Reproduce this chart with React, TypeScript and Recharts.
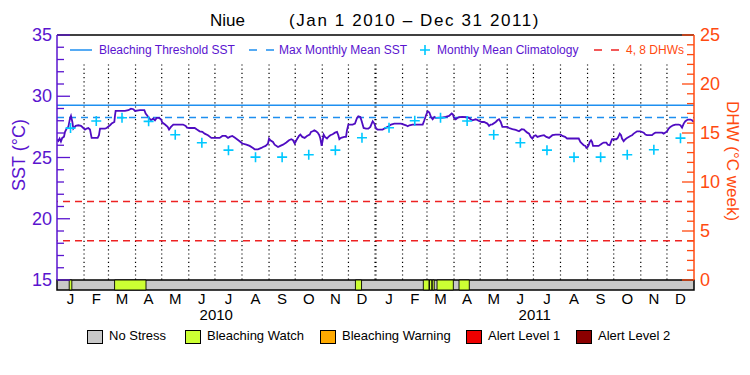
import React from 'react';
import { ComposedChart, Line, Scatter, XAxis, YAxis, ReferenceLine, ReferenceArea } from 'recharts';

// ---------------- data ----------------
const sstDays = [
  0, 1.5, 3, 4.5, 6, 8, 9.2, 11.1, 13, 14.9, 16, 17.6, 18.7, 21.4, 24.4, 27.5, 30.2, 32.1, 34, 35.9, 37.8, 39.7, 46.6, 48.1, 49.3, 55, 56.9, 60.7, 62.6, 65.7, 66.5, 67.2, 77.9, 81.7, 84.8, 87.5, 89.4, 95.1, 100.1, 101.6, 104.7, 107.7, 110.4, 112.3, 114.2, 116.9, 119.2, 120.7, 123.8, 126.8, 128.4, 130.6, 133.3, 141,
  144.4, 147.5, 149, 152, 157.8, 160.4, 163.5, 166.6, 169.2, 173, 176.9, 186.4, 189.5, 193.3, 196, 197.9, 200.9, 203.6, 206.3, 209.3, 212.4, 217, 220.8, 224.6, 226.5, 230.3, 234.2, 236.1, 239.1, 241.8, 243, 244.5, 247.5, 249.4, 253.3, 255.9, 259, 262.8, 265.9, 268.5, 270.5, 272.4, 274.3, 277.3, 278.9, 281.1, 283.8, 286.5, 289.6,
  291.1, 293, 294.9, 296.8, 298.7, 300.6, 301.8, 303.3, 304.5, 305.6, 307.1, 309.4, 311, 313.2, 315.9, 318.6, 320.9, 322.4, 323.6, 325.5, 329.3, 331.2, 332.3, 333.9, 338.8, 341.5, 343.8, 345.3, 347.6, 349.2, 351.4, 354.1, 356.8, 359.1, 360.6, 361.8, 363.7, 365.6, 367.5, 373.2, 375.1, 378.9, 382.8, 386.6, 394.2, 400, 401.9, 403.8, 407.6, 419.1, 421, 422.9, 424.8, 426.7, 428.6, 430.5, 432.4, 434.3,
  437.8, 441.6, 445.4, 449.3, 452.3, 453.8, 455, 456.9, 458.8, 460.7, 464.5, 470.3, 472.2, 474.1, 476, 479.8, 483.7, 486.7, 489.4, 493.2, 495.1, 497, 498.9, 502.8, 504.7, 506.6, 508.5, 510.4, 516.1, 518, 521.9, 525.7, 529.5, 532.5, 535.2, 537.1, 539, 541, 542.9, 544.8, 546.7, 548.6, 550.5, 554.3, 558.1, 560.8, 563.9, 567.7, 571.5, 577.2, 579.1, 582.2,
  584.5, 597.9, 599.8, 601.7, 603.6, 605.5, 606.7, 608.2, 609.3, 610.5, 612, 613.2, 614.3, 620.8, 622.7, 624.6, 626.5, 629.6, 631.1, 633.4, 634.9, 636.1, 641, 642.6, 643.7, 644.9, 646.4, 647.5, 649.4, 651.4, 653.3, 655.2, 657.1, 659, 660.9, 664.7, 668.5, 672.4, 674.3, 676.2, 681.9, 683.8, 685.7, 689.6, 693.4, 695.3, 697.2, 699.1, 701, 702.9, 706, 708.7, 712.5, 714.4, 716.3, 718.2, 720.1, 722.8, 725.8, 727.8, 729.7,
];
const sstValues = [
  26.45, 26.35, 26.55, 26.3, 26.6, 26.7, 27.09, 27.36, 27.5, 28.18, 28.39, 27.9, 27.36, 27.58, 27.63, 27.58, 27.41, 27.28, 27.36, 27.41, 27.28, 26.6, 26.6, 26.82, 27.36, 27.36, 27.41, 27.63, 27.77, 27.9, 28.45, 28.8, 28.8, 28.86, 28.99, 28.94, 28.8, 28.86, 28.86, 28.59, 28.31, 28.04, 28.18, 28.04, 28.23, 28.23, 28.12, 27.85, 27.69, 27.5, 27.28, 27.5, 27.69, 27.69,
  27.69, 27.58, 27.44, 27.41, 27.41, 27.28, 27.14, 27.09, 26.95, 26.82, 26.6, 26.6, 26.76, 26.76, 26.6, 26.68, 26.76, 26.63, 26.49, 26.33, 26.14, 26.05, 25.95, 25.78, 25.67, 25.67, 25.78, 25.86, 25.95, 26.14, 26.55, 26.41, 26.27, 26.05, 25.86, 25.95, 26.05, 26.22, 26.41, 26.49, 26.41, 26.14, 26.41, 26.76, 26.87, 26.68, 26.6, 26.76, 26.87,
  27.09, 27.14, 27.22, 27.14, 27.03, 26.82, 26.55, 25.95, 26.41, 26.87, 26.68, 26.55, 26.68, 26.82, 26.9, 27.03, 27.09, 26.82, 26.49, 26.6, 26.68, 26.68, 27.22, 27.69, 27.69, 27.77, 28.23, 28.37, 28.31, 27.96, 27.41, 27.36, 27.36, 27.5, 27.77, 27.96, 27.77, 27.36, 27.28, 27.28, 27.36, 27.5, 27.69, 27.77, 27.77, 27.63, 27.55, 27.63, 27.69, 27.69, 28.04, 28.45, 28.78, 28.67, 28.31, 28.12, 28.31, 28.23,
  28.26, 28.26, 28.31, 28.39, 28.59, 28.5, 28.23, 28.12, 28.23, 28.29, 28.31, 28.29, 28.23, 28.12, 28.04, 28.12, 27.99, 27.9, 27.9, 27.77, 27.58, 27.69, 27.71, 27.9, 28.04, 28.12, 27.9, 27.5, 27.5, 27.41, 27.31, 27.25, 27.14, 27.31, 27.28, 27.14, 27.03, 26.95, 26.68, 26.55, 26.76, 26.82, 26.68, 26.76, 26.82, 26.68, 26.6, 26.82, 26.87, 26.87, 26.76, 26.68,
  26.55, 26.55, 26.27, 26.14, 26.0, 25.95, 25.78, 25.86, 26.0, 26.27, 26.41, 26.27, 25.95, 25.95, 26.05, 26.14, 26.22, 26.22, 26.05, 26.0, 26.27, 26.49, 26.49, 26.6, 26.76, 26.95, 26.82, 26.55, 26.33, 26.49, 26.6, 26.68, 26.76, 26.82, 26.95, 27.14, 27.14, 27.03, 26.87, 26.82, 26.82, 26.95, 27.03, 27.03, 27.03, 26.95, 27.03, 27.14, 27.36, 27.5, 27.63, 27.69, 27.69, 27.63, 27.44, 27.77, 27.96, 28.1, 28.1, 28.04, 27.9,
];

// month start days (day 0 = Jan 1 2010) and mid-month label positions
const monthStartDays = [0, 31, 59, 90, 120, 151, 181, 212, 243, 273, 304, 334, 365, 396, 424, 455, 485, 516, 546, 577, 608, 638, 669, 699, 730];
const monthLetters = ['J', 'F', 'M', 'A', 'M', 'J', 'J', 'A', 'S', 'O', 'N', 'D', 'J', 'F', 'M', 'A', 'M', 'J', 'J', 'A', 'S', 'O', 'N', 'D'];
const yearLabels = ['2010', '2011'];
const yearMidDays = [182.5, 547.5];

// monthly mean climatology (one per month, plotted mid-month)
const climValues = [27.4, 27.98, 28.25, 27.95, 26.86, 26.2, 25.6, 25.03, 25.03, 25.22, 25.6, 26.61, 27.43, 28.0, 28.25, 27.98, 26.86, 26.2, 25.6, 25.03, 25.03, 25.22, 25.63, 26.58];

const bleachingThreshold = 29.26;
const maxMonthlyMean = 28.26;
const dhwLevels = [4, 8];

// bleaching watch periods (day ranges) in the stress strip
const watchStart = [14, 66, 342, 419.8, 426.9, 430.1, 435.5, 460.7];
const watchEnd = [17, 102, 349, 426.3, 429.5, 432.3, 454.2, 472.5];

const leftTicks = [15, 16, 17, 18, 19, 20, 21, 22, 23, 24, 25, 26, 27, 28, 29, 30, 31, 32, 33, 34, 35];
const rightTicks = [0, 1, 2, 3, 4, 5, 6, 7, 8, 9, 10, 11, 12, 13, 14, 15, 16, 17, 18, 19, 20, 21, 22, 23, 24, 25];

const legendItems = ['No Stress', 'Bleaching Watch', 'Bleaching Warning', 'Alert Level 1', 'Alert Level 2'];
const legendColors = ['#c8c8c8', '#ccff33', '#ffaa00', '#ee0000', '#8b0000'];

// ---------------- derived tables ----------------
const monthMidDays = monthLetters.map((_, i) => (monthStartDays[i] + monthStartDays[i + 1]) / 2);
const sstData = sstDays.map((d, i) => ({ day: d, sst: sstValues[i] }));
const climData = climValues.map((v, i) => ({ day: monthMidDays[i], clim: v }));

// ---------------- styles ----------------
const FONT = "'Liberation Sans', Arial, sans-serif";
const PURPLE = '#5a14cf';
const LINE_PURPLE = '#4f0cc2';
const BLUE = '#1e8ff0';
const CYAN = '#00c8ff';
const RED = '#ee2222';
const ORANGE = '#ff4a10';
const STRIP_BOTTOM = 14.184;

const LeftTick = (props: any) => {
  const { x, y, payload } = props;
  const v = payload.value;
  const major = v % 5 === 0;
  return (
    <g>
      <line x1={x} x2={x + (major ? 13 : 7)} y1={y} y2={y} stroke={PURPLE} strokeWidth={1.3} />
      {major && (
        <text x={x - 5} y={y + 6} textAnchor="end" fill={PURPLE} fontSize={18} fontFamily={FONT}>
          {v}
        </text>
      )}
    </g>
  );
};

const RightTick = (props: any) => {
  const { x, y, payload } = props;
  const v = payload.value;
  const major = v % 5 === 0;
  return (
    <g>
      <line x1={x} x2={x - (major ? 12 : 7)} y1={y} y2={y} stroke={ORANGE} strokeWidth={1.3} />
      {major && (
        <text x={x + 6} y={y + 6} textAnchor="start" fill={ORANGE} fontSize={18} fontFamily={FONT}>
          {v}
        </text>
      )}
    </g>
  );
};

const MonthTick = (props: any) => {
  const { x, y, payload } = props;
  const idx = monthMidDays.indexOf(payload.value);
  return (
    <text x={x} y={y + 24} textAnchor="middle" fill="#000" fontSize={15} fontFamily={FONT}>
      {monthLetters[idx]}
    </text>
  );
};

const YearTick = (props: any) => {
  const { x, y, payload } = props;
  const idx = yearMidDays.indexOf(payload.value);
  return (
    <text x={x} y={y + 10} textAnchor="middle" fill="#000" fontSize={15} fontFamily={FONT}>
      {yearLabels[idx]}
    </text>
  );
};

const PlusShape = (props: any) => {
  const { cx, cy } = props;
  return <path d={`M${cx - 5},${cy}H${cx + 5}M${cx},${cy - 5}V${cy + 5}`} stroke={CYAN} strokeWidth={1.6} fill="none" />;
};

export default function App() {
  return (
    <div style={{ position: 'absolute', left: 0, top: 0, width: 750, height: 375, background: '#fff', fontFamily: FONT }}>
      <ComposedChart
        width={750}
        height={375}
        data={sstData}
        margin={{ top: 35, right: 0, bottom: 0, left: 0 }}
      >
        <XAxis
          dataKey="day"
          type="number"
          domain={[0, 730]}
          allowDataOverflow
          ticks={monthMidDays}
          interval={0}
          axisLine={false}
          tickLine={false}
          tickSize={0}
          tickMargin={0}
          height={30}
          tick={<MonthTick />}
        />
        <XAxis
          xAxisId="year"
          dataKey="day"
          type="number"
          domain={[0, 730]}
          allowDataOverflow
          ticks={yearMidDays}
          interval={0}
          axisLine={false}
          tickLine={false}
          tickSize={0}
          tickMargin={0}
          height={65}
          tick={<YearTick />}
        />
        <YAxis
          yAxisId="left"
          orientation="left"
          width={57}
          domain={[15, 35]}
          allowDataOverflow
          ticks={leftTicks}
          interval={0}
          axisLine={{ stroke: PURPLE, strokeWidth: 1.5 }}
          tickLine={false}
          tickSize={0}
          tickMargin={0}
          tick={<LeftTick />}
        />
        <YAxis
          yAxisId="right"
          orientation="right"
          width={56}
          domain={[0, 25]}
          allowDataOverflow
          ticks={rightTicks}
          interval={0}
          axisLine={{ stroke: ORANGE, strokeWidth: 1.5 }}
          tickLine={false}
          tickSize={0}
          tickMargin={0}
          tick={<RightTick />}
        />

        {/* top frame */}
        <ReferenceLine yAxisId="left" y={35} stroke="#000" strokeWidth={1.5} />

        {/* month dotted separators */}
        {monthStartDays.slice(1, -1).map((d) => (
          <ReferenceLine
            key={`m${d}`}
            yAxisId="left"
            segment={[{ x: d, y: 32.6 }, { x: d, y: 15 }]}
            stroke="#000"
            strokeWidth={d === 365 ? 2.2 : 1.2}
            strokeDasharray="1.2 3"
          />
        ))}

        {/* threshold & MMM */}
        <ReferenceLine yAxisId="left" y={bleachingThreshold} stroke={BLUE} strokeWidth={1.5} />
        <ReferenceLine yAxisId="left" y={maxMonthlyMean} stroke={BLUE} strokeWidth={1.5} strokeDasharray="7 5" />
        {dhwLevels.map((v) => (
          <ReferenceLine key={`dhw${v}`} yAxisId="right" y={v} stroke={RED} strokeWidth={1.5} strokeDasharray="7 5" />
        ))}

        {/* stress strip */}
        <ReferenceArea
          yAxisId="left"
          x1={0}
          x2={730}
          y1={STRIP_BOTTOM}
          y2={15}
          fill={legendColors[0]}
          fillOpacity={1}
          stroke="#000"
          strokeWidth={1.5}
          ifOverflow="visible"
        />
        {watchStart.map((s, i) => (
          <ReferenceArea
            key={`w${i}`}
            yAxisId="left"
            x1={s}
            x2={watchEnd[i]}
            y1={STRIP_BOTTOM}
            y2={15}
            fill={legendColors[1]}
            fillOpacity={1}
            stroke="#000"
            strokeWidth={0.9}
            ifOverflow="visible"
          />
        ))}

        <Scatter
          yAxisId="left"
          data={climData}
          dataKey="clim"
          shape={<PlusShape />}
          isAnimationActive={false}
        />
        <Line
          yAxisId="left"
          type="linear"
          dataKey="sst"
          stroke={LINE_PURPLE}
          strokeWidth={1.8}
          dot={false}
          isAnimationActive={false}
        />
      </ComposedChart>

      {/* title */}
      <div style={{ position: 'absolute', left: 210, top: 11, fontSize: 17, color: '#000', whiteSpace: 'nowrap' }}>Niue</div>
      <div style={{ position: 'absolute', left: 289, top: 11, fontSize: 17, letterSpacing: 1.6, color: '#000', whiteSpace: 'nowrap' }}>
        (Jan 1 2010 – Dec 31 2011)
      </div>

      {/* axis titles */}
      <div
        style={{
          position: 'absolute', left: 19, top: 155, fontSize: 18, color: PURPLE, whiteSpace: 'nowrap',
          transform: 'translate(-50%, -50%) rotate(-90deg)',
        }}
      >
        SST (°C)
      </div>
      <div
        style={{
          position: 'absolute', left: 732, top: 161, fontSize: 17, color: ORANGE, whiteSpace: 'nowrap',
          transform: 'translate(-50%, -50%) rotate(90deg)',
        }}
      >
        DHW (°C week)
      </div>

      {/* top legend */}
      <svg style={{ position: 'absolute', left: 0, top: 40 }} width={750} height={20}>
        <line x1={70} x2={92} y1={10} y2={10} stroke={BLUE} strokeWidth={1.5} />
        <line x1={249} x2={274} y1={10} y2={10} stroke={BLUE} strokeWidth={1.5} strokeDasharray="8 9" />
        <path d="M420,10H430M425,5V15" stroke={CYAN} strokeWidth={1.6} />
        <line x1={594} x2={620} y1={10} y2={10} stroke={RED} strokeWidth={1.5} strokeDasharray="8 9" />
      </svg>
      <div style={{ position: 'absolute', left: 99, top: 43, fontSize: 12, color: PURPLE, whiteSpace: 'nowrap' }}>Bleaching Threshold SST</div>
      <div style={{ position: 'absolute', left: 279, top: 43, fontSize: 12, color: PURPLE, whiteSpace: 'nowrap' }}>Max Monthly Mean SST</div>
      <div style={{ position: 'absolute', left: 437, top: 43, fontSize: 12, color: PURPLE, whiteSpace: 'nowrap' }}>Monthly Mean Climatology</div>
      <div style={{ position: 'absolute', left: 626, top: 43, fontSize: 12, color: ORANGE, whiteSpace: 'nowrap' }}>4, 8 DHWs</div>

      {/* bottom legend */}
      {legendItems.map((name, i) => {
        const boxLeft = [87, 185, 320, 466, 576][i];
        return (
          <React.Fragment key={name}>
            <div style={{ position: 'absolute', left: boxLeft, top: 330, width: 14, height: 12, background: legendColors[i], border: '1px solid #000' }} />
            <div style={{ position: 'absolute', left: boxLeft + 22, top: 328, fontSize: 13, color: '#000', whiteSpace: 'nowrap' }}>{name}</div>
          </React.Fragment>
        );
      })}
    </div>
  );
}
